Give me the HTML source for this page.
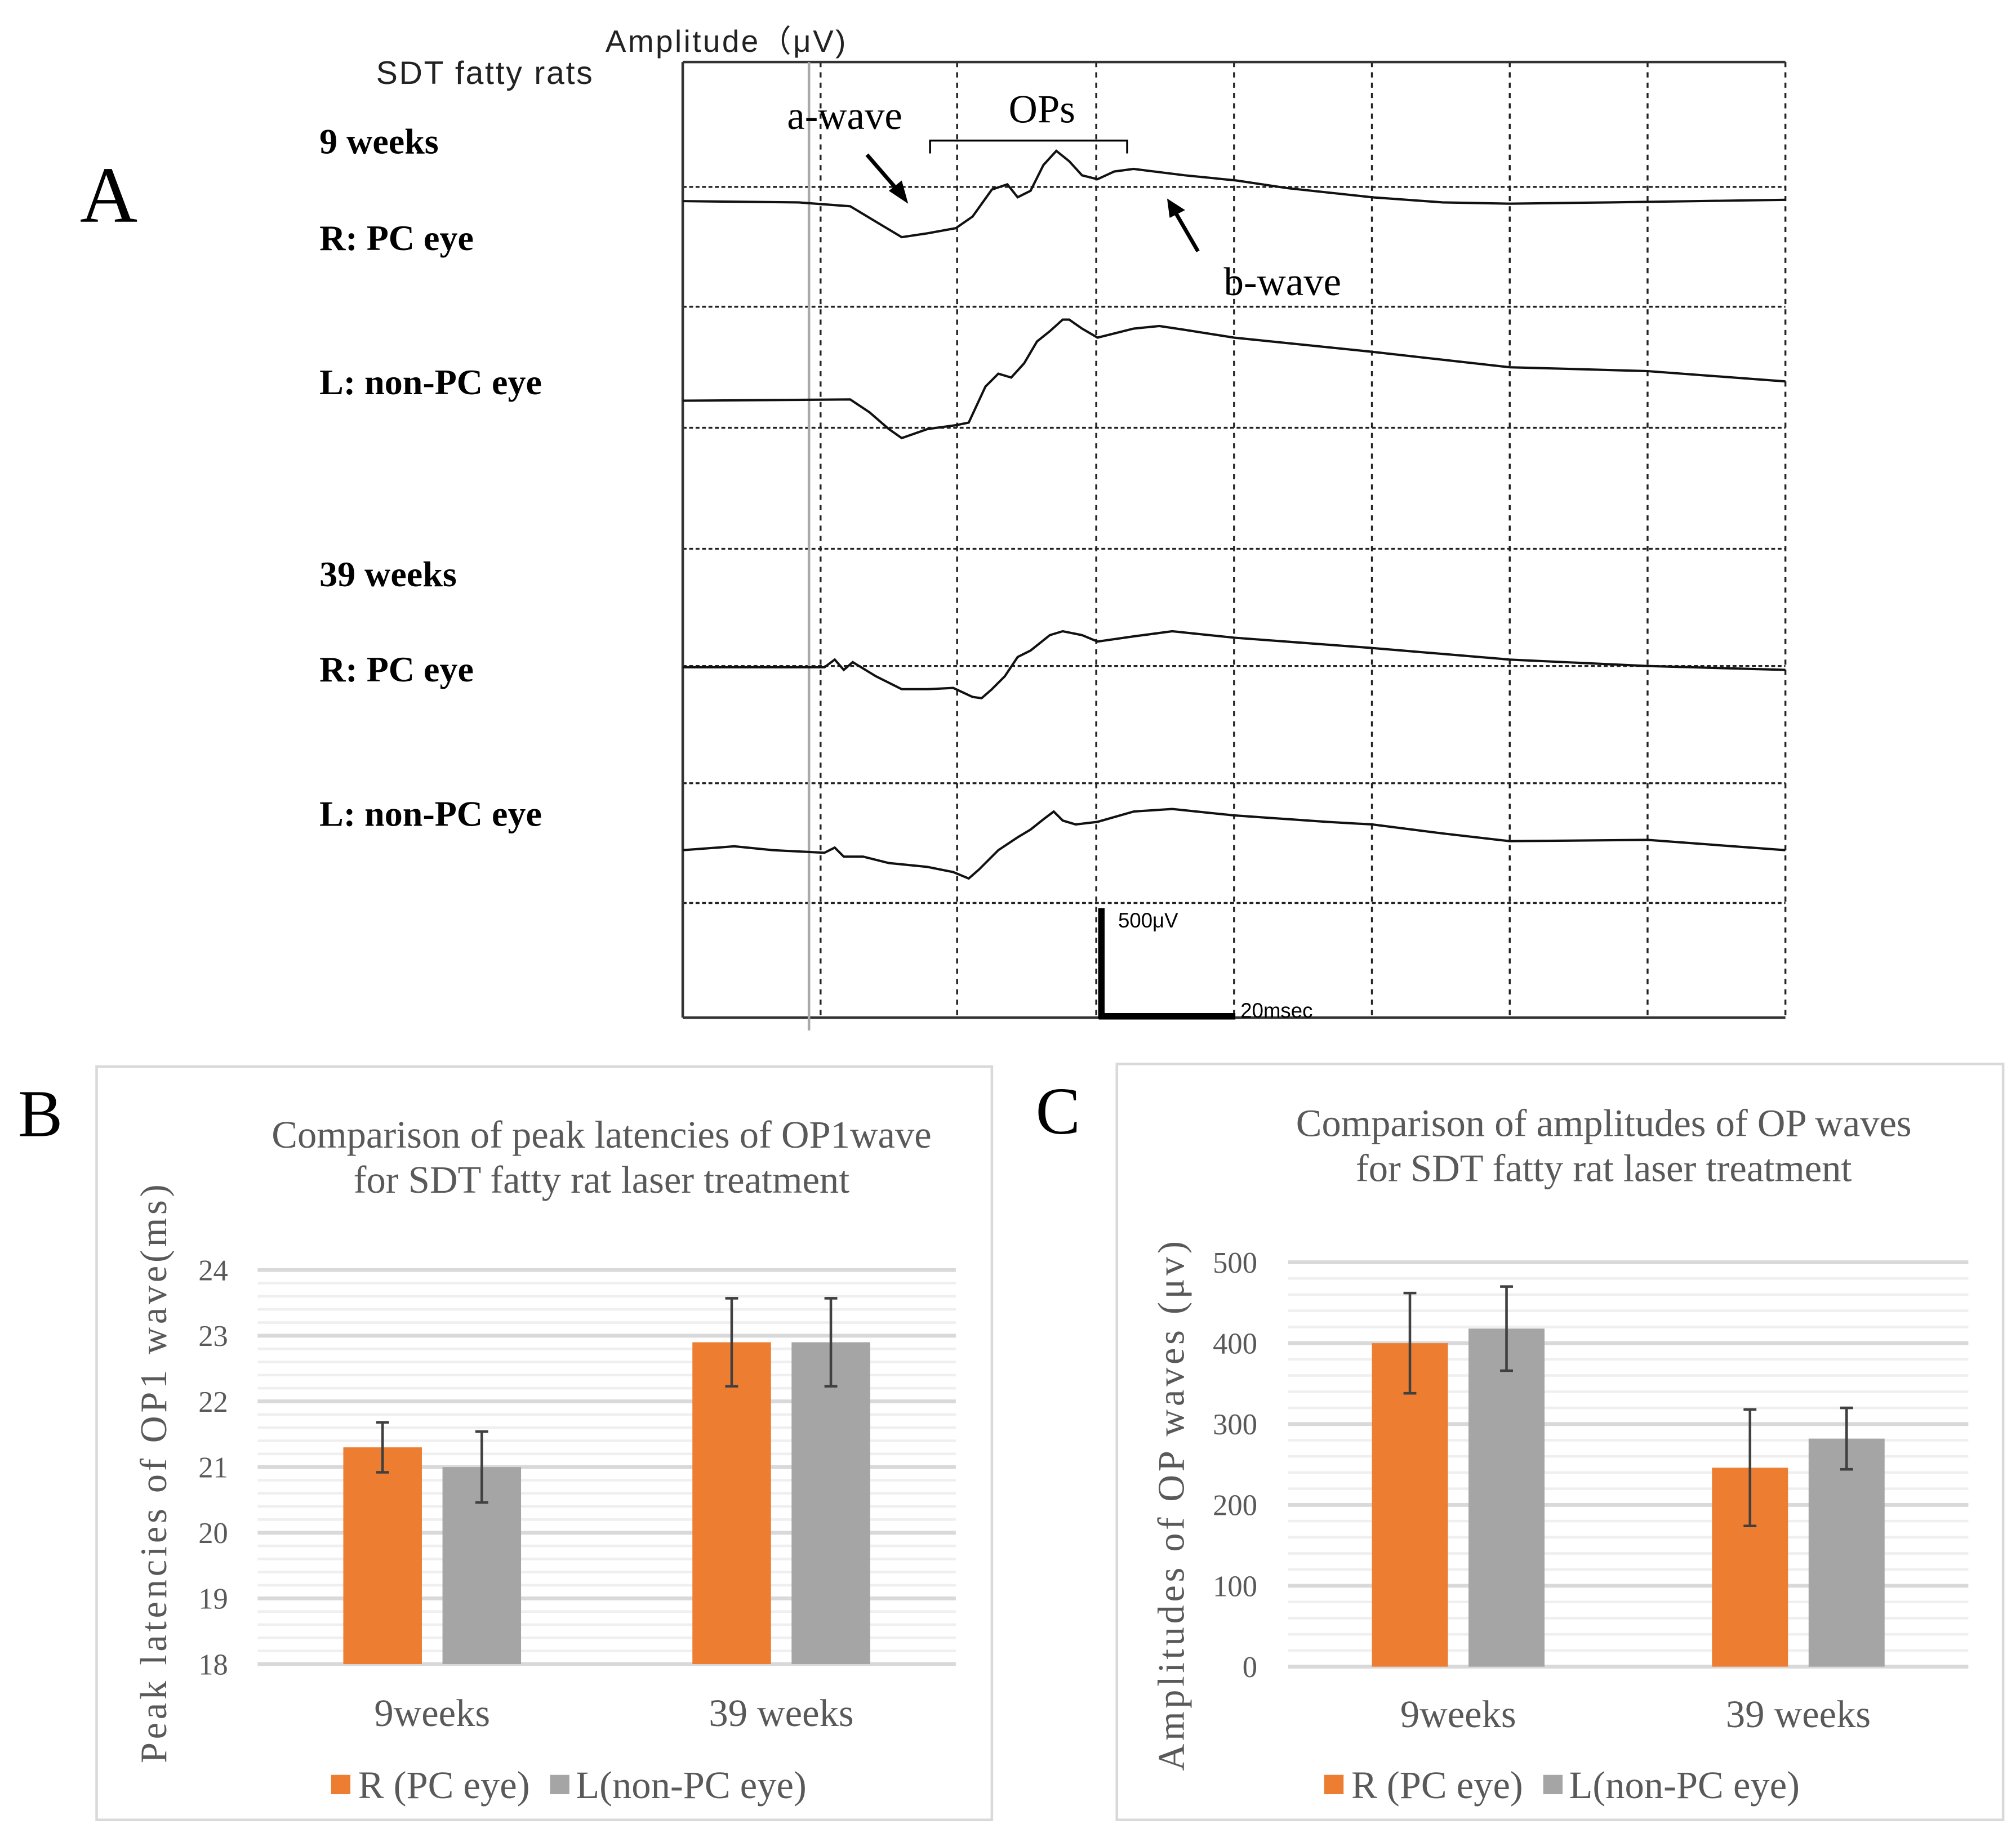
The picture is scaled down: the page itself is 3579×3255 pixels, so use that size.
<!DOCTYPE html>
<html><head><meta charset="utf-8"><style>
html,body{margin:0;padding:0;background:#fff;}
svg{display:block;}
.serif{font-family:"Liberation Serif",serif;}
.sans{font-family:"Liberation Sans",sans-serif;}
</style></head><body>
<svg id="root" width="3579" height="3255" viewBox="0 0 1565 1423" xmlns="http://www.w3.org/2000/svg">
<rect width="1565" height="1423" fill="#fff"/>
<!-- Panel A -->
<g id="panelA">
  <text class="serif" x="62" y="172" font-size="62">A</text>
  <text class="sans" x="470" y="40" font-size="24" letter-spacing="1.5" fill="#222">Amplitude（μV)</text>
  <text class="sans" x="292" y="65" font-size="25" letter-spacing="1.2" fill="#222">SDT fatty rats</text>
  <g class="serif" font-weight="bold" font-size="28">
    <text x="248" y="119">9 weeks</text>
    <text x="248" y="194">R: PC eye</text>
    <text x="248" y="306">L: non-PC eye</text>
    <text x="248" y="455">39 weeks</text>
    <text x="248" y="529">R: PC eye</text>
    <text x="248" y="641">L: non-PC eye</text>
  </g>
  <g id="gridA"></g>
  <line x1="628" y1="48" x2="628" y2="800" stroke="#aaa" stroke-width="2"/>
  <g id="tracesA"></g>
  <line x1="855" y1="705" x2="855" y2="791" stroke="#000" stroke-width="5"/>
  <line x1="853" y1="789" x2="959" y2="789" stroke="#000" stroke-width="5"/>
  <text class="sans" x="868" y="720" font-size="16">500μV</text>
  <text class="sans" x="963" y="790" font-size="16">20msec</text>
  <text class="serif" x="611" y="100" font-size="31">a-wave</text>
  <text class="serif" x="783" y="95" font-size="31">OPs</text>
  <path d="M722,119 V109 H875 V119" fill="none" stroke="#000" stroke-width="1.5"/>
  <text class="serif" x="950" y="229" font-size="31">b-wave</text>
  <line x1="673" y1="120" x2="699" y2="150" stroke="#000" stroke-width="3"/>
  <polygon points="705,158 690,148 700,140"/>
  <line x1="930" y1="195" x2="912" y2="164" stroke="#000" stroke-width="3"/>
  <polygon points="906,154 920,163 908,169"/>
</g>
<!-- Panel B -->
<rect x="75" y="828" width="695" height="585" fill="#fff" stroke="#d9d9d9" stroke-width="2"/>
<text class="serif" x="14" y="882" font-size="52">B</text>
<text class="serif" x="467" y="891" font-size="30" fill="#595959" text-anchor="middle">Comparison of  peak latencies of OP1wave</text>
<text class="serif" x="467" y="926" font-size="30" fill="#595959" text-anchor="middle">for SDT fatty rat laser treatment</text>
<text class="serif" font-size="29" fill="#595959" letter-spacing="2.5" text-anchor="middle" transform="translate(129,1143) rotate(-90)">Peak  latencies of OP1 wave(ms)</text>
<g id="chartB"></g>
<!-- Panel C -->
<rect x="867" y="826" width="688" height="587" fill="#fff" stroke="#d9d9d9" stroke-width="2"/>
<text class="serif" x="804" y="880" font-size="52">C</text>
<text class="serif" x="1245" y="882" font-size="30" fill="#595959" text-anchor="middle">Comparison of amplitudes of OP waves</text>
<text class="serif" x="1245" y="917" font-size="30" fill="#595959" text-anchor="middle">for SDT fatty rat laser treatment</text>
<text class="serif" font-size="29" fill="#595959" letter-spacing="2.5" text-anchor="middle" transform="translate(919,1168) rotate(-90)">Amplitudes of OP waves (μv)</text>
<g id="chartC"></g>
</svg>
<script>
const NS='http://www.w3.org/2000/svg';
// ERG trace samples (time-ish x in px, amplitude y in px)
const trace9R=[[530,156],[620,157],[660,160],[680,172],[700,184],[720,181],[742,177],[755,168],[770,147],[782,143],[790,153],[800,148],[810,128],[820,117],[830,125],[840,136],[852,139],[865,133],[880,131],[920,136],[960,140],[1000,146],[1065,153],[1120,157],[1172,158],[1250,157],[1386,155]];
const trace9L=[[530,311],[660,310],[675,320],[690,333],[700,340],[720,333],[742,330],[752,328],[765,300],[775,290],[785,293],[795,282],[805,265],[815,257],[825,248],[830,248],[840,255],[852,262],[860,260],[880,255],[900,253],[920,256],[958,262],[1065,273],[1172,285],[1279,288],[1386,296]];
const trace39R=[[530,518],[640,518],[648,512],[655,520],[662,514],[680,525],[700,535],[720,535],[740,534],[755,541],[762,542],[770,535],[780,525],[790,510],[800,505],[815,493],[825,490],[840,493],[852,498],[880,494],[910,490],[958,495],[1065,503],[1172,512],[1279,517],[1386,520]];
const trace39L=[[530,660],[570,657],[600,660],[640,662],[648,658],[655,665],[670,665],[690,670],[720,673],[740,677],[752,682],[760,675],[775,660],[790,650],[800,644],[810,636],[818,630],[825,637],[835,640],[852,638],[880,630],[910,628],[958,633],[1030,638],[1065,640],[1120,647],[1172,653],[1279,652],[1386,660]];
// chart B data
const catsB=['9weeks','39 weeks'];
const ticksB=[18,19,20,21,22,23,24];
const rB=[21.3,22.9];
const lB=[21.0,22.9];
const rErrB=[0.38,0.67];
const lErrB=[0.54,0.67];
// chart C data
const catsC=['9weeks','39 weeks'];
const ticksC=[0,100,200,300,400,500];
const rC=[400,246];
const lC=[418,282];
const rErrC=[62,72];
const lErrC=[52,38];

function mk(parent,tag,attrs){const e=document.createElementNS(NS,tag);for(const k in attrs)e.setAttribute(k,attrs[k]);parent.appendChild(e);return e;}

// grid A
const gA=document.getElementById('gridA');
[637,743,851,958,1065,1172,1279,1386].forEach(x=>{const l=mk(gA,'line',{x1:x,y1:48,x2:x,y2:790,stroke:'#222','stroke-width':1.5,'stroke-dasharray':'4 4'});

});
[145,238,332,426,517,608,701].forEach(y=>{const l=mk(gA,'line',{x1:530,y1:y,x2:1386,y2:y,stroke:'#222','stroke-width':1.5,'stroke-dasharray':'3 2'});

});
[[530,48,1386,48],[530,790,1386,790],[530,48,530,790]].forEach(c=>{const l=mk(gA,'line',{x1:c[0],y1:c[1],x2:c[2],y2:c[3],stroke:'#333','stroke-width':2});

});
const tA=document.getElementById('tracesA');
[[trace9R,'trace-9w-right'],[trace9L,'trace-9w-left'],[trace39R,'trace-39w-right'],[trace39L,'trace-39w-left']].forEach(([pts,n])=>{
 const p=mk(tA,'polyline',{points:pts.map(q=>q.join(',')).join(' '),fill:'none',stroke:'#111','stroke-width':1.8});
 
 
});

function barChart(g,o){
 const y=v=>o.y0-(v-o.vmin)/(o.vmax-o.vmin)*(o.y0-o.y1);
 for(let v=o.vmin;v<=o.vmax+1e-9;v+=o.minor){
  const major=Math.abs((v-o.vmin)/o.major-Math.round((v-o.vmin)/o.major))<1e-6;
  const l=mk(g,'line',{x1:o.x0,x2:o.x1,y1:y(v),y2:y(v),stroke:major?'#d9d9d9':'#efefef','stroke-width':major?3:2});
  
  
 }
 o.ticks.forEach(t=>{const tx=mk(g,'text',{x:o.tx,y:y(t)+8,'font-size':23,fill:'#595959','text-anchor':'end','font-family':'Liberation Serif, serif'});tx.textContent=t;
  
  });
 const cw=(o.x1-o.x0)/o.cats.length;
 o.cats.forEach((c,i)=>{
  const cx=o.x0+cw*(i+0.5);
  [[o.r[i],o.re[i],'#ed7d31',-1,'bar-r'],[o.l[i],o.le[i],'#a5a5a5',1,'bar-l']].forEach(([v,e,col,s,n])=>{
   const bx=s<0?cx-8-o.bw:cx+8;
   const b=mk(g,'rect',{x:bx,y:y(v),width:o.bw,height:o.y0-y(v),fill:col});
   
   
   const mx=bx+o.bw/2;
   const eb=mk(g,'path',{d:`M${mx},${y(v+e)}V${y(v-e)}M${mx-5},${y(v+e)}H${mx+5}M${mx-5},${y(v-e)}H${mx+5}`,stroke:'#404040','stroke-width':2,fill:'none'});
   
   
  });
  const t=mk(g,'text',{x:cx,y:o.catY,'font-size':30,fill:'#595959','text-anchor':'middle','font-family':'Liberation Serif, serif'});t.textContent=c;
  
  
 });
 // legend
 const lg=o.leg;
 const s1=mk(g,'rect',{x:lg,y:1378,width:15,height:15,fill:'#ed7d31'});
 
 
 const t1=mk(g,'text',{x:lg+21,y:1396,'font-size':30,fill:'#595959','font-family':'Liberation Serif, serif'});t1.textContent='R (PC eye)';
 
 
 const s2=mk(g,'rect',{x:lg+170,y:1378,width:15,height:15,fill:'#a5a5a5'});
 
 
 const t2=mk(g,'text',{x:lg+190,y:1396,'font-size':30,fill:'#595959','font-family':'Liberation Serif, serif'});t2.textContent='L(non-PC eye)';
 
 
}
barChart(document.getElementById('chartB'),{x0:200,x1:742,y0:1292,y1:986,vmin:18,vmax:24,major:1,minor:0.2,ticks:ticksB,tx:177,cats:catsB,r:rB,l:lB,re:rErrB,le:lErrB,bw:61,catY:1340,leg:257});
barChart(document.getElementById('chartC'),{x0:1000,x1:1528,y0:1294,y1:980,vmin:0,vmax:500,major:100,minor:20,ticks:ticksC,tx:976,cats:catsC,r:rC,l:lC,re:rErrC,le:lErrC,bw:59,catY:1341,leg:1028});
</script>
</body></html>
